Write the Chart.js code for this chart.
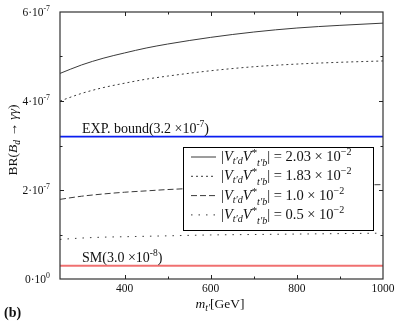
<!DOCTYPE html>
<html><head><meta charset="utf-8">
<script src="https://cdn.jsdelivr.net/npm/chart.js@4/dist/chart.umd.min.js"></script>
<style>html,body{margin:0;padding:0;background:#fff}#wrap{width:400px;height:321px}</style>
</head><body><div id="wrap"><canvas id="c" width="400" height="321"></canvas></div>
<script>
// masses m_t' (GeV)
const masses = [250, 300, 350, 400, 450, 500, 600, 700, 800, 900, 1000];
// BR values in units of 1e-7
const br203 = [4.62, 4.81, 4.96, 5.08, 5.19, 5.28, 5.43, 5.55, 5.64, 5.70, 5.75];
const br183 = [4.00, 4.17, 4.30, 4.40, 4.49, 4.56, 4.68, 4.77, 4.83, 4.87, 4.90];
const br100 = [1.79, 1.86, 1.91, 1.95, 1.98, 2.01, 2.05, 2.07, 2.09, 2.11, 2.12];
const br050 = [0.89, 0.92, 0.94, 0.95, 0.96, 0.97, 0.99, 1.00, 1.01, 1.02, 1.03];
const expBound = 3.2;   // 3.2e-7
const smValue = 0.3;    // 3.0e-8
const seriesCoef = ["2.03", "1.83", "1.0", "0.5"];
const xTickLabels = [400, 600, 800, 1000];
const yTickLabels = ["0\u00b710", "2\u00b710", "4\u00b710", "6\u00b710"];
const yTickExp = ["0", "-7", "-7", "-7"];

const serif = '"Liberation Serif", "DejaVu Serif", serif';
function pts(ys){ return masses.map((m,i)=>({x:m,y:ys[i]})); }
const lineCol = '#3a3a3a';
const dashes = [[], [2,3], [6,3], [1.5,6]];
const allSeries = [br203, br183, br100, br050];

function richWidth(ctx, segs, size){
  let w=0; for(const s of segs){ ctx.font=(s[1]?'italic ':'')+(size*(s[2]||1)).toFixed(1)+'px '+serif; w+=ctx.measureText(s[0]).width; } return w;
}
function drawRich(ctx, segs, x, y, size){
  ctx.textAlign='left'; ctx.textBaseline='alphabetic';
  for(const s of segs){ ctx.font=(s[1]?'italic ':'')+(size*(s[2]||1)).toFixed(1)+'px '+serif; ctx.fillText(s[0], x, y+(s[3]||0)); x+=ctx.measureText(s[0]).width; }
  return x;
}

const deco = {
  id:'deco',
  afterDraw(chart){
    const ctx=chart.ctx, a=chart.chartArea, xs=chart.scales.x, ys=chart.scales.y;
    ctx.save();
    ctx.strokeStyle='#333'; ctx.lineWidth=1.2;
    ctx.strokeRect(a.left, a.top, a.right-a.left, a.bottom-a.top);
    ctx.lineWidth=1; ctx.strokeStyle='#222';
    for(const t of xs.ticks){
      if(t.value<=xs.min||t.value>=xs.max) continue;
      const px=Math.round(xs.getPixelForValue(t.value))+0.5; const L=(t.value%200===0)?4:2.5;
      ctx.beginPath(); ctx.moveTo(px,a.bottom); ctx.lineTo(px,a.bottom-L); ctx.moveTo(px,a.top); ctx.lineTo(px,a.top+L); ctx.stroke();
    }
    for(const t of ys.ticks){
      if(t.value<=ys.min||t.value>=ys.max) continue;
      const py=Math.round(ys.getPixelForValue(t.value))+0.5; const L=(Math.round(t.value)%2===0)?4:2.5;
      ctx.beginPath(); ctx.moveTo(a.left,py); ctx.lineTo(a.left+L,py); ctx.moveTo(a.right,py); ctx.lineTo(a.right-L,py); ctx.stroke();
    }
    ctx.fillStyle='#111';
    ctx.font='11.5px '+serif; ctx.textAlign='center'; ctx.textBaseline='alphabetic';
    for(const v of xTickLabels){ ctx.fillText(String(v), xs.getPixelForValue(v), 292); }
    for(let i=0;i<yTickLabels.length;i++){
      const py=ys.getPixelForValue(i*2);
      const segs=[[yTickLabels[i],false,1,0],[yTickExp[i],false,0.68,-5]];
      const w=richWidth(ctx,segs,11.5);
      drawRich(ctx,segs,50-w,py+4,11.5);
    }
    const xt=[['m',true,1,0],['t\u2032',true,0.72,3],['[GeV]',false,1,0]];
    const xw=richWidth(ctx,xt,13.5);
    drawRich(ctx,xt,220-xw/2,308,13.5);
    ctx.save(); ctx.translate(17,140); ctx.rotate(-Math.PI/2);
    const yt=[['BR(',false,1,0],['B',true,1,0],['d',true,0.72,3],[' \u2192 ',false,1,0],['\u03b3\u03b3',true,1,0],[')',false,1,0]];
    const yw=richWidth(ctx,yt,13.5);
    drawRich(ctx,yt,-yw/2,0,13.5);
    ctx.restore();
    const pe=ys.getPixelForValue(expBound), psm=ys.getPixelForValue(smValue);
    drawRich(ctx,[['EXP. bound(3.2 \u00d710',false,1,0],['-7',false,0.68,-6],[')',false,1,0]],82,pe-4,14);
    drawRich(ctx,[['SM(3.0 \u00d710',false,1,0],['-8',false,0.68,-6],[')',false,1,0]],82,psm-4,14);
    ctx.font='bold 14px '+serif; ctx.textAlign='left'; ctx.fillText('(b)',4,317);
    const L={x:183,y:147,w:190,h:83};
    ctx.fillStyle='#fff'; ctx.fillRect(L.x,L.y,L.w,L.h);
    ctx.strokeStyle='#000'; ctx.lineWidth=1; ctx.strokeRect(L.x+0.5,L.y+0.5,L.w,L.h);
    for(let i=0;i<4;i++){
      const ry=L.y+14+i*19.3;
      ctx.strokeStyle=lineCol; ctx.lineWidth=1; ctx.setLineDash(dashes[i]);
      ctx.beginPath(); ctx.moveTo(191,ry-4); ctx.lineTo(216,ry-4); ctx.stroke(); ctx.setLineDash([]);
      ctx.fillStyle='#111';
      drawRich(ctx,[['|',false,1,0],['V',true,1,0],['t\u2032d',true,0.7,3],['V',true,1,0],['*',false,0.75,-5],['t\u2032b',true,0.7,5],['| = '+seriesCoef[i]+' \u00d7 10',false,1,0],['\u22122',false,0.7,-6]],221,ry,14.5);
    }
    ctx.restore();
  }
};

new Chart(document.getElementById('c'),{
  type:'line',
  data:{datasets:[
    ...allSeries.map((s,i)=>({data:pts(s),borderColor:lineCol,borderWidth:1,borderDash:dashes[i],pointRadius:0,cubicInterpolationMode:'monotone',fill:false})),
    {data:[{x:250,y:expBound},{x:1000,y:expBound}],borderColor:'#0a1ef0',borderWidth:1.6,pointRadius:0},
    {data:[{x:250,y:smValue},{x:1000,y:smValue}],borderColor:'#f07070',borderWidth:2,pointRadius:0}
  ]},
  options:{
    responsive:false, animation:false, devicePixelRatio:1,
    layout:{padding:{left:0,right:17,top:12,bottom:0}},
    plugins:{legend:{display:false},tooltip:{enabled:false}},
    scales:{
      x:{type:'linear',min:250,max:1000,ticks:{stepSize:100,display:false},grid:{display:false},border:{display:false},
         afterFit(s){s.height=42;}},
      y:{type:'linear',min:0,max:6,ticks:{stepSize:1,display:false},grid:{display:false},border:{display:false},
         afterFit(s){s.width=60;}}
    }
  },
  plugins:[deco]
});
</script></body></html>
